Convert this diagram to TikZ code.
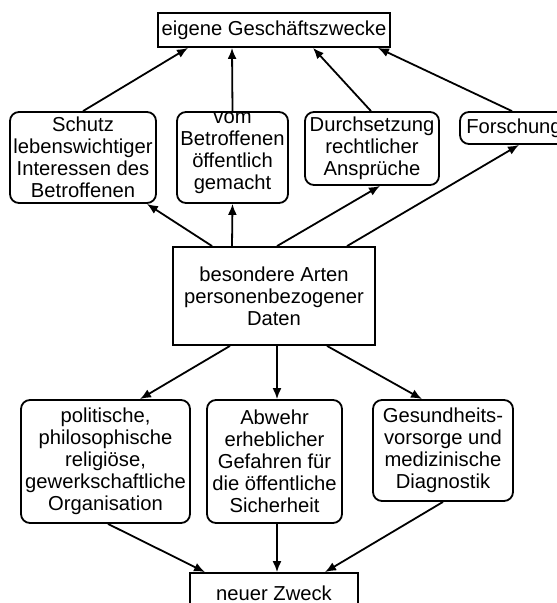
\documentclass[tikz,border=0pt]{standalone}
\usepackage{fontspec}
\setmainfont{Liberation Sans}
\usetikzlibrary{arrows.meta}
\begin{document}
\begin{tikzpicture}[x=1pt,y=-1pt,
  every node/.style={font=\fontsize{20.2pt}{22pt}\selectfont, align=center, inner sep=0pt},
  sbox/.style={draw, line width=1.8pt},
  rbox/.style={draw, line width=1.8pt, rounded corners=9pt},
  conn/.style={line width=1.8pt, -{Latex[length=11pt,width=9pt]}}]
\useasboundingbox (0,0) rectangle (557,603);
\begin{scope}
\clip (0,0) rectangle (557,603);
% top row
\node[sbox, minimum width=232pt, minimum height=34pt] (top) at (274,30) {eigene Geschäftszwecke};
% second row
\node[rbox, minimum width=146pt, minimum height=91pt] (schutz) at (83,157.5) {Schutz\\lebenswichtiger\\Interessen des\\Betroffenen};
\node[rbox, minimum width=111pt, minimum height=91pt] (vom) at (232.5,157.5) {};
\node (vomtxt) at (232.5,153) {vom\\Betroffenen\\öffentlich\\gemacht};
\node[rbox, minimum width=134pt, minimum height=73pt] (durch) at (372,148.5) {Durchsetzung\\rechtlicher\\Ansprüche};
\node[rbox, minimum width=108pt, minimum height=32pt] (forsch) at (514,128) {Forschung};
% center
\node[sbox, minimum width=202pt, minimum height=98pt] (mid) at (274,296) {besondere Arten\\personenbezogener\\Daten};
% third row
\node[rbox, minimum width=169pt, minimum height=123pt] (polit) at (105.5,461.5) {politische,\\philosophische\\religiöse,\\gewerkschaftliche\\Organisation};
\node[rbox, minimum width=135pt, minimum height=123pt] (abwehr) at (274.5,461.5) {Abwehr\\erheblicher\\Gefahren für\\die öffentliche\\Sicherheit};
\node[rbox, minimum width=140pt, minimum height=101pt] (gesund) at (443,450.5) {Gesundheits-\\vorsorge und\\medizinische\\Diagnostik};
% bottom
\node[sbox, minimum width=168pt, minimum height=40pt] (neu) at (274,593) {neuer Zweck};
% connectors up
\draw[conn] (schutz.north) -- ([xshift=-86pt]top.south);
\draw[conn] (vom.north) -- ([xshift=-42pt]top.south);
\draw[conn] ([xshift=-1pt]durch.north) -- ([xshift=39pt]top.south);
\draw[conn] ([xshift=-2pt]forsch.north) -- ([xshift=-13pt]top.south east);
\draw[conn] ([xshift=40pt]mid.north west) -- ([xshift=-10pt]schutz.south east);
\draw[conn] ([xshift=-42pt]mid.north) -- (vom.south);
\draw[conn] ([xshift=3pt]mid.north) -- ([xshift=8pt]durch.south);
\draw[conn] ([xshift=73pt]mid.north) -- ([xshift=5pt]forsch.south);
% connectors down
\draw[conn] ([xshift=-44pt]mid.south) -- ([xshift=34.5pt]polit.north);
\draw[conn] ([xshift=3pt]mid.south) -- ([xshift=2.5pt]abwehr.north);
\draw[conn] ([xshift=53pt]mid.south) -- ([xshift=-21pt]gesund.north);
\draw[conn] ([xshift=2.5pt]polit.south) -- ([xshift=-69pt]neu.north);
\draw[conn] ([xshift=2.5pt]abwehr.south) -- ([xshift=3pt]neu.north);
\draw[conn] (gesund.south) -- ([xshift=51pt]neu.north);
\end{scope}
\end{tikzpicture}
\end{document}
